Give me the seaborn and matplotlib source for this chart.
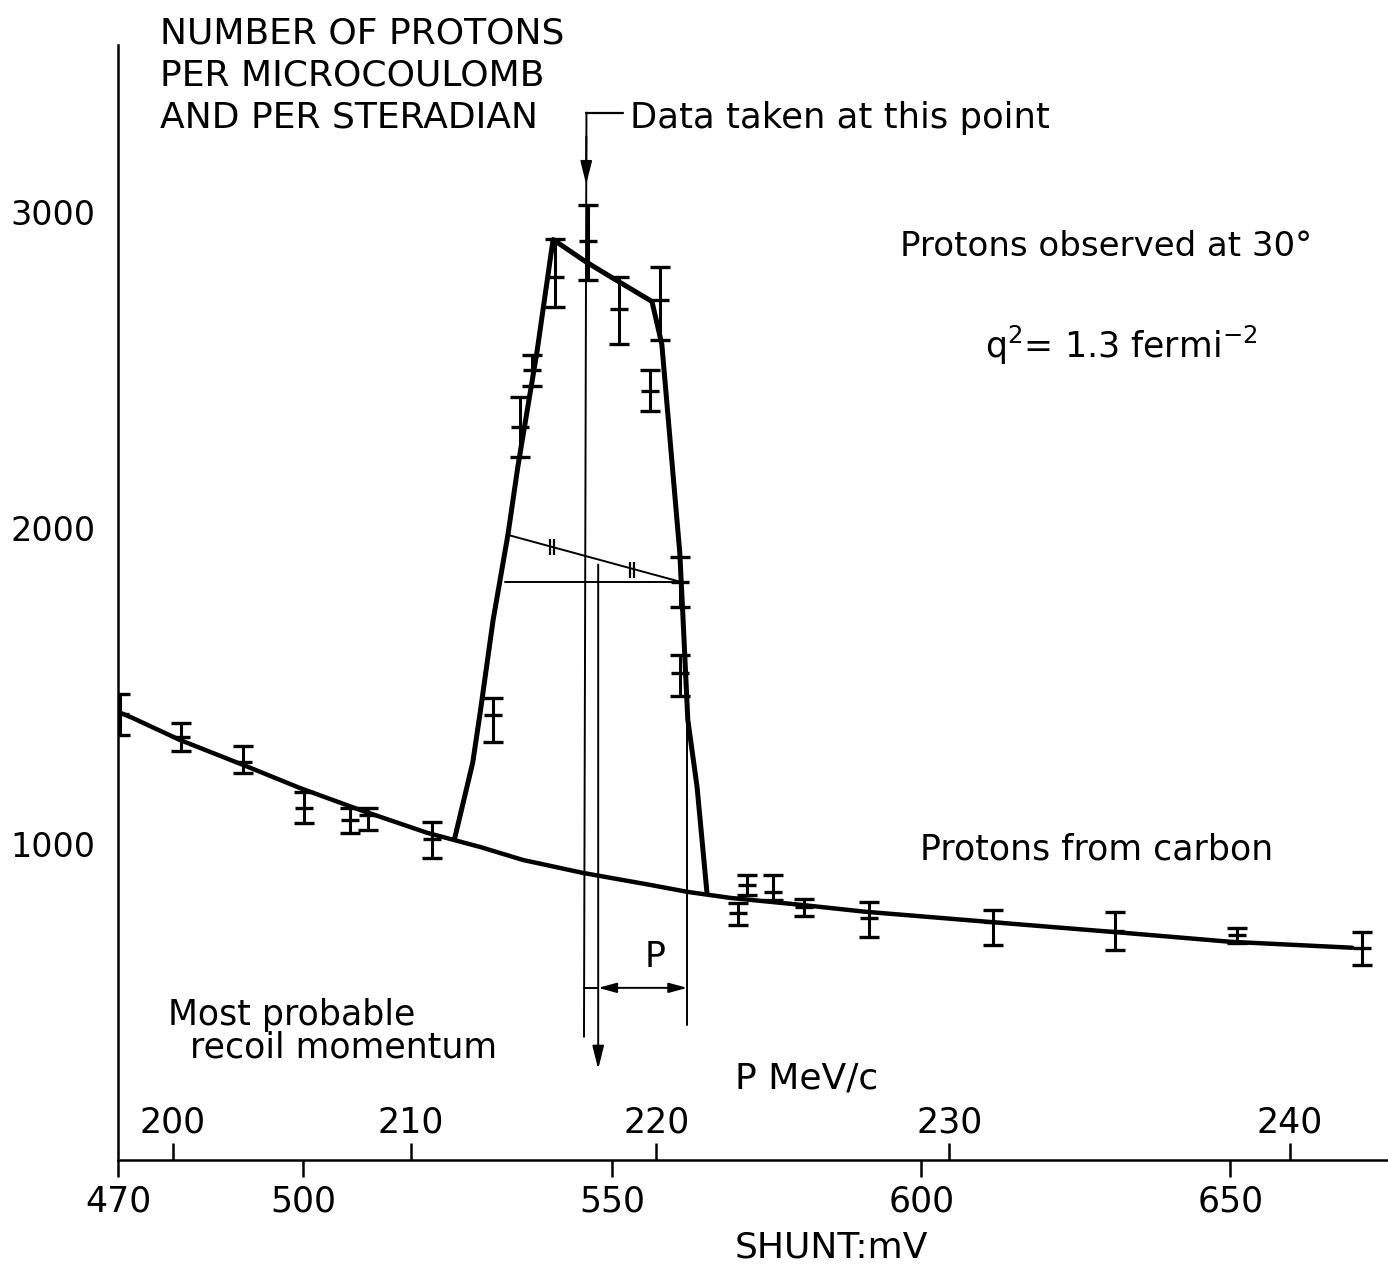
import matplotlib
matplotlib.use("Agg")
import matplotlib.pyplot as plt
import numpy as np
import pandas as pd
import seaborn as sns

# ---------------- data ----------------
# smooth background curve: protons from carbon (shunt mV, count)
carbon_shunt = [470.0, 472.3, 480.0, 490.6, 499.4, 509.2, 520.0, 528.6, 535.5, 545.2,
                556.1, 562.1, 569.0, 580.4, 590.9, 612.7, 632.9, 649.9, 669.7]
carbon_count = [1419, 1400, 1330, 1248, 1178, 1108, 1036, 991, 950, 909,
                871, 849, 830, 808, 786, 751, 719, 691, 672]

# peak envelope (hydrogen peak on top of carbon)
peak_shunt = [524.5, 527.4, 528.6, 530.7, 533.1, 534.7, 537.8, 540.4, 545.6, 549.9,
              556.4, 558.0, 560.9, 561.4, 562.2, 563.7, 565.3]
peak_count = [1020, 1258, 1416, 1710, 1980, 2195, 2559, 2914, 2845, 2794,
              2718, 2582, 1923, 1726, 1394, 1181, 846]

# measured points with error bars
point_shunt = [470.3, 480.2, 490.2, 500.1, 507.5, 510.5, 520.8,
               530.7, 535.0, 537.0, 540.7, 546.1, 551.1, 556.1, 557.7, 560.9, 560.9,
               570.3, 571.8, 576.0, 581.0, 591.5, 611.6, 631.3, 651.1, 671.3]
point_count = [1411, 1340, 1261, 1115, 1077, 1093, 1017,
               1410, 2322, 2500, 2797, 2908, 2695, 2436, 2724, 1831, 1543,
               782, 871, 849, 801, 767, 754, 725, 713, 672]
point_low = [1346, 1295, 1226, 1067, 1036, 1045, 957,
             1324, 2227, 2449, 2699, 2787, 2582, 2372, 2597, 1752, 1470,
             744, 840, 824, 773, 706, 681, 665, 687, 618]
point_high = [1476, 1384, 1311, 1166, 1115, 1115, 1071,
              1463, 2417, 2547, 2917, 3025, 2794, 2502, 2826, 1910, 1600,
              814, 903, 903, 827, 817, 792, 785, 735, 722]

# construction lines (triangle under the peak)
slope_shunt = [532.9, 560.9]
slope_count = [1980, 1831]
base_shunt = [532.6, 560.9]
base_count = [1831, 1831]
slope_marks_shunt = [540.2, 553.2]
slope_marks_count = [1942, 1869]

# axis ticks
y_ticks = [1000, 2000, 3000]
shunt_ticks = [470, 500, 550, 600, 650]
momentum_ticks = [200, 210, 220, 230, 240]
momentum_tick_shunt = [478.9, 517.4, 557.1, 604.5, 659.6]

# guide lines
data_line_x = 545.4
data_line_top = 3316
data_line_bottom = 390
data_hook_x = 551.7
recoil_line_x = 547.7
recoil_line_top = 1894
recoil_line_bottom = 279
p_line_x = 562.1
p_line_top = 1457
p_line_bottom = 428
p_arrow_y = 545

# ---------------- drawing ----------------
sns.set_style("white")
plt.rcParams["font.family"] = ["DejaVu Sans"]
plt.rcParams["mathtext.fontset"] = "dejavusans"

W, H = 1388, 1267
fig = plt.figure(figsize=(W / 100, H / 100), dpi=100)
ax = fig.add_axes([118 / W, (H - 1160) / H, (W - 118) / W, (1160 - 45) / H])
ax.set_xlim(470, 675.5)
ax.set_ylim(0, 3530)

ink = "black"

carbon_df = pd.DataFrame({"shunt": carbon_shunt, "count": carbon_count})
peak_df = pd.DataFrame({"shunt": peak_shunt, "count": peak_count})
sns.lineplot(data=carbon_df, x="shunt", y="count", ax=ax, color=ink, lw=3.2,
             sort=False, estimator=None)
sns.lineplot(data=peak_df, x="shunt", y="count", ax=ax, color=ink, lw=3.6,
             sort=False, estimator=None)

pc = np.array(point_count, float)
yerr = [pc - np.array(point_low), np.array(point_high) - pc]
ax.errorbar(point_shunt, pc, yerr=yerr, fmt="_", ms=13, mew=2.4, color=ink,
            ecolor=ink, elinewidth=2.2, capsize=7, capthick=2.6, zorder=5)

# triangle construction
ax.plot(slope_shunt, slope_count, color=ink, lw=1.4)
ax.plot(base_shunt, base_count, color=ink, lw=1.4)
for dx in (-0.35, 0.35):
    ax.plot(np.array(slope_marks_shunt) + dx, slope_marks_count, ls="none",
            marker="|", ms=11, mew=1.6, color=ink)

# "Data taken at this point" arrow
ax.plot([data_hook_x, data_line_x + 0.4], [data_line_top, data_line_top], color=ink, lw=1.6)
ax.plot([data_line_x + 0.4, data_line_x], [data_line_top, data_line_bottom], color=ink, lw=1.4)
ax.annotate("", xy=(data_line_x + 0.35, 3080), xytext=(data_line_x + 0.38, 3250),
            arrowprops=dict(arrowstyle="-|>,head_length=1.4,head_width=0.35",
                            color=ink, lw=1.4))
# recoil line with arrow down
ax.annotate("", xy=(recoil_line_x, recoil_line_bottom), xytext=(recoil_line_x, recoil_line_top),
            arrowprops=dict(arrowstyle="-|>,head_length=1.4,head_width=0.35",
                            color=ink, lw=1.4))
# P bracket
ax.plot([p_line_x, p_line_x], [p_line_top, p_line_bottom], color=ink, lw=1.4)
ax.plot([data_line_x, recoil_line_x], [p_arrow_y, p_arrow_y], color=ink, lw=1.4)
ax.annotate("", xy=(recoil_line_x, p_arrow_y), xytext=(p_line_x, p_arrow_y),
            arrowprops=dict(arrowstyle="<|-|>,head_length=1.1,head_width=0.3",
                            color=ink, lw=1.4, shrinkA=0, shrinkB=0))

# axes styling
for s in ("top", "right"):
    ax.spines[s].set_visible(False)
for s in ("left", "bottom"):
    ax.spines[s].set_linewidth(1.8)
    ax.spines[s].set_color(ink)
ax.set_yticks(y_ticks, labels=[str(v) for v in y_ticks])
ax.set_xticks(shunt_ticks, labels=[str(v) for v in shunt_ticks])
ax.tick_params(axis="y", direction="in", length=14, width=1.8, pad=16, labelsize=24,
               colors=ink)
ax.tick_params(axis="x", direction="out", length=12, width=1.8, pad=6, labelsize=25,
               colors=ink)
ax.set_xlabel("")
ax.set_ylabel("")

ax2 = ax.twiny()
ax2.set_xlim(ax.get_xlim())
ax2.xaxis.set_ticks_position("bottom")
ax2.set_xticks(momentum_tick_shunt, labels=[str(v) for v in momentum_ticks])
ax2.tick_params(axis="x", direction="in", length=12, width=1.8, pad=-39, labelsize=25,
                colors=ink)
for s in ax2.spines.values():
    s.set_visible(False)

# texts
def ftext(x, y, s, **kw):
    fig.text(x / W, 1 - y / H, s, fontsize=kw.pop("fontsize", 25), color=ink,
             va=kw.pop("va", "center"), ha=kw.pop("ha", "left"), **kw)

ftext(160, 33, "NUMBER OF PROTONS", fontsize=26)
ftext(160, 76, "PER MICROCOULOMB", fontsize=26)
ftext(160, 118, "AND PER STERADIAN", fontsize=26)
ftext(630, 118, "Data taken at this point", fontsize=25.5)
ftext(900, 247, "Protons observed at 30°", fontsize=24.5)
ftext(985, 345, r"q$^{2}$= 1.3 fermi$^{-2}$", fontsize=25)
ftext(920, 850, "Protons from carbon", fontsize=25)
ftext(168, 1015, "Most probable", fontsize=25)
ftext(190, 1048, "recoil momentum", fontsize=25)
ftext(735, 1078, "P MeV/c", fontsize=26)
ftext(735, 1248, "SHUNT:mV", fontsize=26)
ftext(655, 957, "P", ha="center", fontsize=25)

fig.savefig("out.png", dpi=100)
